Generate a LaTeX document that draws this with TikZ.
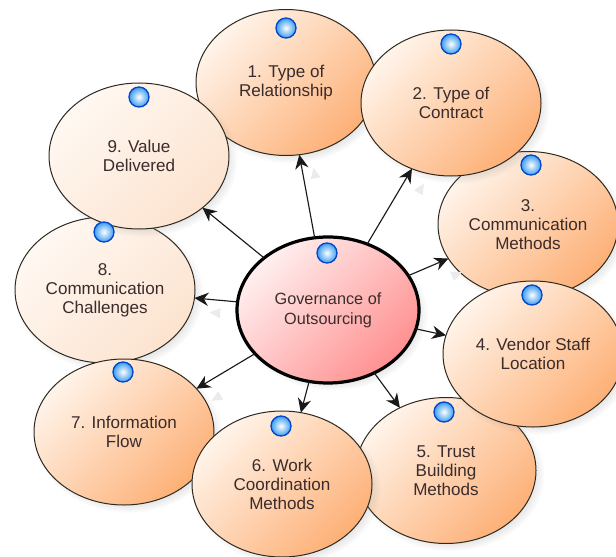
\documentclass[tikz,border=0pt]{standalone}
\usepackage{fontspec}
\setmainfont{Liberation Sans}
\usepackage{tikz}
\usetikzlibrary{shapes.geometric}
\usetikzlibrary{shadows}
\usetikzlibrary{arrows.meta}

\definecolor{inkc}{HTML}{3A2C2C}
\definecolor{rimc}{HTML}{2E2A20}
\definecolor{warmlo}{HTML}{FFF4EA}
\definecolor{warmhi}{HTML}{FDB076}
\definecolor{palelo}{HTML}{FFF8F2}
\definecolor{palehi}{HTML}{FCE3CF}
\definecolor{hublo}{HTML}{FFF0F0}
\definecolor{hubhi}{HTML}{FF9090}
\definecolor{beadc}{HTML}{3C9CF0}
\tikzset{
  topic/.style={ellipse,draw=rimc,line width=0.75pt,minimum width=135pt,minimum height=109.5pt,
    inner sep=0pt,outer sep=0pt,align=center,text=inkc,font=\fontsize{12.8}{14.3}\selectfont,
    circular drop shadow={shadow xshift=3pt,shadow yshift=-3pt,shadow scale=1.05,opacity=.25}},
  warm/.style={topic,top color=warmlo,bottom color=warmhi,shading angle=45},
  pale/.style={topic,top color=palelo,bottom color=palehi,shading angle=45},
  hubnode/.style={topic,draw=black,line width=2.4pt,minimum width=136.5pt,
    font=\fontsize{12.2}{14.8}\selectfont,top color=hublo,bottom color=hubhi,shading angle=45},
  bead/.style={circle,draw=blue!65!cyan!80!black,line width=1pt,minimum size=15pt,inner sep=0pt,
    inner color=white,outer color=beadc},
  link/.style={draw=black!90,line width=0.85pt,-{Stealth[length=10.5pt,width=10pt]}},
  ghost/.style={isosceles triangle,fill=black!8,draw=none,minimum height=8pt,minimum width=7pt,
    inner sep=0pt,isosceles triangle apex angle=50}
}

\begin{document}
\begin{tikzpicture}[x=0.75pt,y=-0.75pt]
\useasboundingbox (0,0) rectangle (616,556);
\clip (0,0) rectangle (616,556);

\node[warm] (n1) at (286,82.5) {1. Type of\\Relationship};
\node[warm] (n3) at (528,224.5) {3.\\Communication\\Methods};
\node[warm] (n5) at (446,470.5) {5. Trust\\Building\\Methods};
\node[pale] (n8) at (105,290) {8.\\Communication\\Challenges};
\node[warm] (n7) at (124,432) {7. Information\\Flow};
\node[pale] (n9) at (139,156) {9. Value\\Delivered};
\node[warm] (n2) at (451,103) {2. Type of\\Contract};
\node[warm] (n4) at (533,354) {4. Vendor Staff\\Location};
\node[warm] (n6) at (282,484) {6. Work\\Coordination\\Methods};
\node[hubnode] (hub) at (328,310) {Governance of\\Outsourcing};

\node[ghost,rotate=100] (g1) at (315,175) {};
\node[ghost,rotate=59] (g2) at (420,190) {};
\node[ghost,rotate=23] (g3) at (455,275) {};
\node[ghost,rotate=211] (g7) at (218,397) {};
\node[ghost,rotate=175] (g8) at (217,313) {};

\draw[link] (hub) -- (n1);
\draw[link] (hub) -- (n2);
\draw[link] (hub) -- (n3);
\draw[link] (hub) -- (n4);
\draw[link] (hub) -- (n5);
\draw[link] (hub) -- (n6);
\draw[link] (hub) -- (n7);
\draw[link] (hub) -- (n8);
\draw[link] (hub) -- (n9);

\node[bead] (b1) at (286,28) {};
\node[bead] (b2) at (451,44) {};
\node[bead] (b3) at (531,165) {};
\node[bead] (b4) at (532,295) {};
\node[bead] (b5) at (444,412) {};
\node[bead] (b6) at (281,426) {};
\node[bead] (b7) at (123,372) {};
\node[bead] (b8) at (104,232) {};
\node[bead] (b9) at (139,97) {};
\node[bead] (b0) at (327,253) {};
\end{tikzpicture}
\end{document}
